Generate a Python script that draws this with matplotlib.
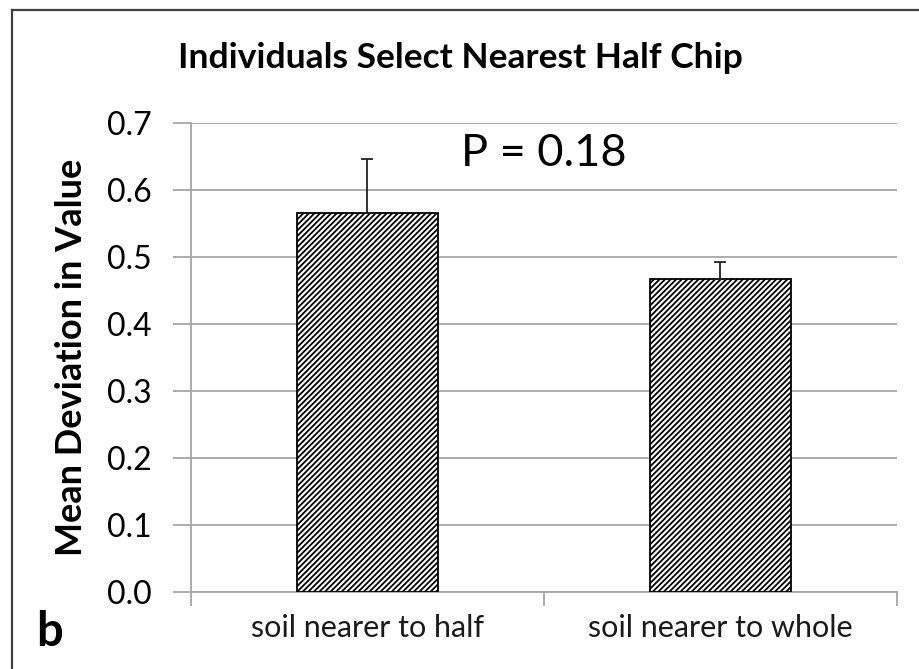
import matplotlib
matplotlib.use("Agg")
import matplotlib.pyplot as plt
from matplotlib.lines import Line2D

plt.rcParams['font.family'] = ['Lato', 'DejaVu Sans']
plt.rcParams['hatch.linewidth'] = 1.3

# data
categories = ['soil nearer to half', 'soil nearer to whole']
means = [0.566, 0.467]
errors = [0.080, 0.026]
yticks = [0.0, 0.1, 0.2, 0.3, 0.4, 0.5, 0.6, 0.7]
title = 'Individuals Select Nearest Half Chip'
p_text = 'P = 0.18'

fig = plt.figure(figsize=(9.2, 6.69), dpi=100)
ax = fig.add_axes([191 / 920, 1 - 592 / 669, 706 / 920, 469 / 669])

grid_col = '#a6a6a6'
pos = list(range(len(categories)))
ax.bar(pos, means, width=0.4, color='white', edgecolor='black',
       linewidth=1.3, hatch='//////', zorder=3)
ax.errorbar(pos, means, yerr=[[0] * len(errors), errors], fmt='none',
            ecolor='#222222', elinewidth=1.3, capsize=4.5, capthick=1.3, zorder=4)

ax.set_xlim(-0.5, len(categories) - 0.5)
ax.set_ylim(0, 0.7)
ax.set_yticks(yticks)
ax.set_yticklabels(['%.1f' % v for v in yticks])
ax.yaxis.grid(True, color=grid_col, linewidth=1.3, zorder=0)
ax.set_axisbelow(True)

# excel style: ticks between categories
ax.set_xticks([p - 0.5 for p in pos] + [pos[-1] + 0.5])
ax.set_xticklabels([])
ax.set_xticks(pos, minor=True)
ax.set_xticklabels(categories, minor=True)
ax.tick_params(axis='x', which='major', direction='out', length=10, width=1.3, color=grid_col)
ax.tick_params(axis='x', which='minor', length=0, pad=16, labelsize=22, labelcolor='#1a1a1a')
ax.tick_params(axis='y', direction='out', length=13, width=1.3, color=grid_col,
               labelsize=23, pad=15)

for s in ['top', 'right']:
    ax.spines[s].set_visible(False)
for s in ['left', 'bottom']:
    ax.spines[s].set_color(grid_col)
    ax.spines[s].set_linewidth(1.3)

ax.set_ylabel('Mean Deviation in Value', fontsize=26, fontweight='bold')
ax.yaxis.set_label_coords(-(191 - 88) / 706, 0.5)

ax.text(0.5, 0.655, p_text, fontsize=32.5, ha='center', va='center')

fig.text(0.5, 1 - 58 / 669, title, fontsize=25.5, fontweight='bold',
         ha='center', va='center')
fig.text(50 / 920, 1 - 632 / 669, 'b', fontsize=34, fontweight='bold',
         ha='center', va='center')

# outer frame (only left and top visible in the crop)
fig.add_artist(Line2D([12 / 920, 12 / 920], [0, 1 - 10 / 669], color='#404040', linewidth=1.6))
fig.add_artist(Line2D([12 / 920, 1], [1 - 10 / 669, 1 - 10 / 669], color='#404040', linewidth=1.6))

fig.savefig('out.png', dpi=100)
